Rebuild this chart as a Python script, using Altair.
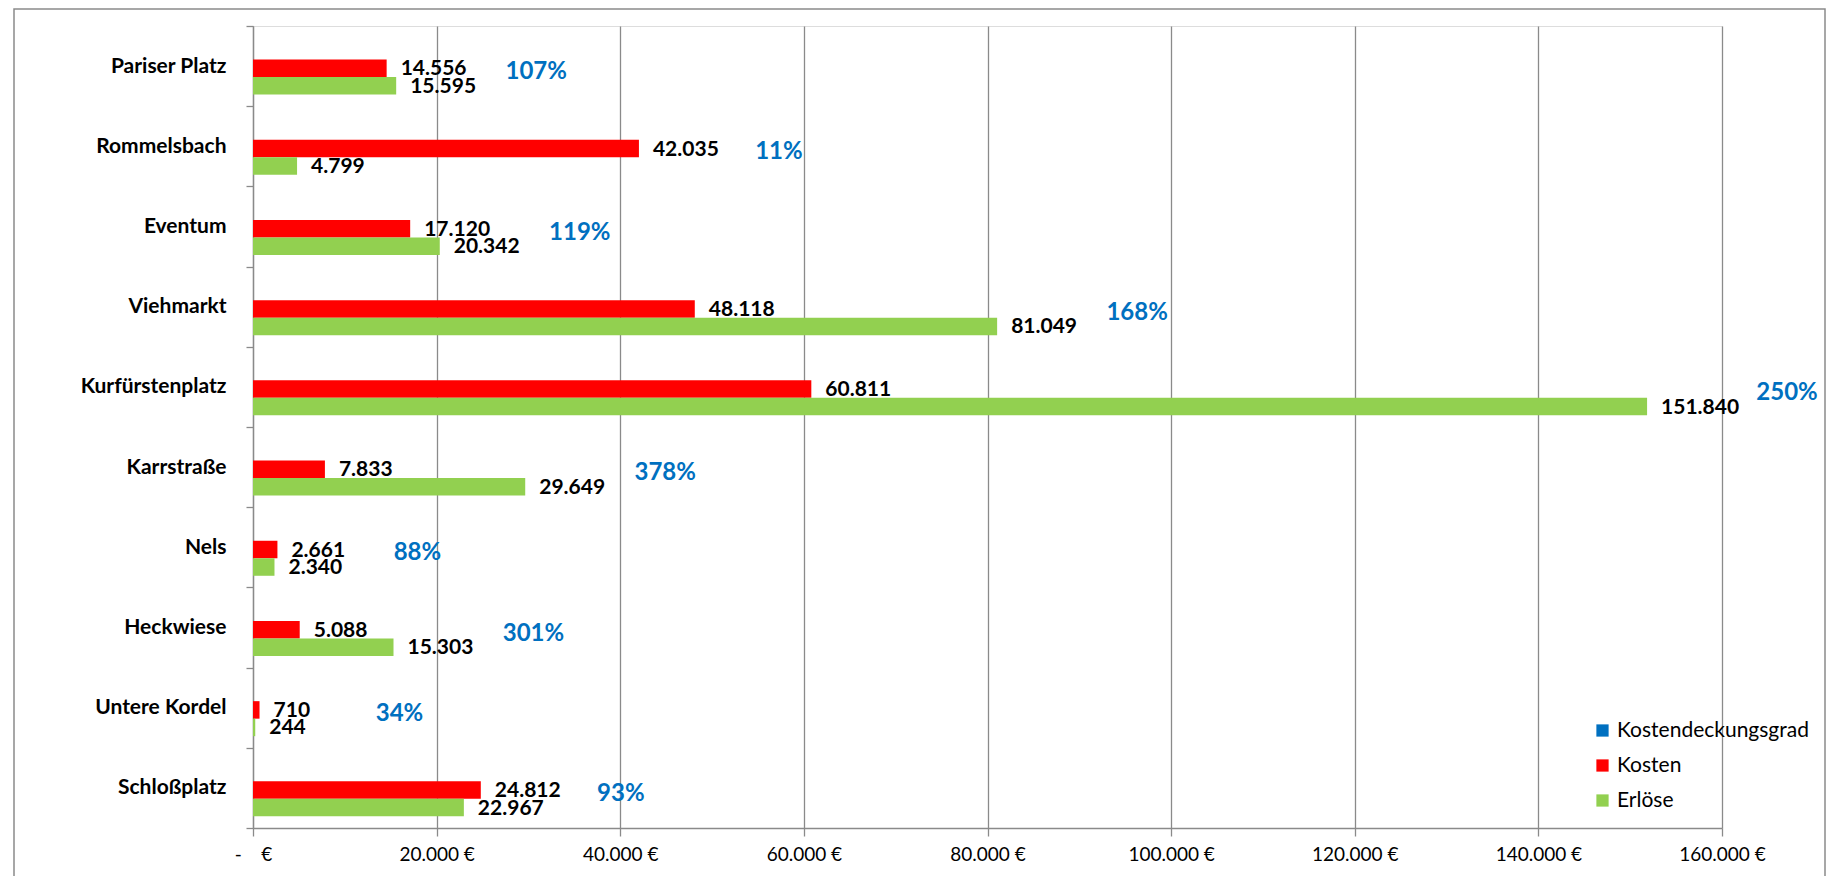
import altair as alt
import pandas as pd

orte = ["Pariser Platz", "Rommelsbach", "Eventum", "Viehmarkt", "Kurfürstenplatz",
        "Karrstraße", "Nels", "Heckwiese", "Untere Kordel", "Schloßplatz"]
kosten = [14556, 42035, 17120, 48118, 60811, 7833, 2661, 5088, 710, 24812]
erloese = [15595, 4799, 20342, 81049, 151840, 29649, 2340, 15303, 244, 22967]
kdg_pct = [107, 11, 119, 168, 250, 378, 88, 301, 34, 93]

serien = ["Kostendeckungsgrad", "Kosten", "Erlöse"]
farben = ["#0070C0", "#FF0000", "#92D050"]


def de(v):
    return f"{v:,}".replace(",", ".")


rows = []
for o, k, e in zip(orte, kosten, erloese):
    rows.append({"Ort": o, "Serie": "Kosten", "Wert": k, "Label": de(k)})
    rows.append({"Ort": o, "Serie": "Erlöse", "Wert": e, "Label": de(e)})
bars_df = pd.DataFrame(rows)

pct_df = pd.DataFrame({
    "Ort": orte,
    "Pos": [max(k, e) for k, e in zip(kosten, erloese)],
    "Pct": [f"{p}%" for p in kdg_pct],
})

GRID = "#8a8a8a"

y_enc = alt.Y("Ort:N", sort=orte, title=None,
              scale=alt.Scale(paddingInner=0, paddingOuter=0),
              axis=alt.Axis(tickBand="extent", labelFont="Lato", labelFontSize=21,
                            labelFontWeight="bold", labelColor="#000000",
                            labelPadding=20, tickSize=7, tickColor=GRID,
                            domainColor=GRID, domainWidth=1.3, tickWidth=1.3,
                            grid=False, labelLimit=400))
x_enc = alt.X("Wert:Q", title=None,
              scale=alt.Scale(domain=[0, 160000], nice=False),
              axis=alt.Axis(values=list(range(0, 160001, 20000)),
                            labelExpr="datum.value == 0 ? '-\u00a0\u00a0\u00a0\u00a0€' : replace(format(datum.value, ','), ',', '.') + ' €'",
                            labelFont="Lato", labelFontSize=19, labelColor="#000000",
                            labelFlush=False,
                            labelPadding=9, tickSize=8, tickColor=GRID, tickWidth=1.3,
                            domainColor=GRID, domainWidth=1.3,
                            grid=True, gridColor=GRID, gridWidth=1.3))
yoff = alt.YOffset("Serie:N", sort=serien,
                   scale=alt.Scale(domain=serien, paddingInner=0, paddingOuter=0.79, align=0.58))

bars = alt.Chart(bars_df).mark_bar(size=17.5).encode(
    x=x_enc,
    y=y_enc,
    yOffset=yoff,
    color=alt.Color("Serie:N", scale=alt.Scale(domain=serien, range=farben),
                    legend=alt.Legend(title=None, orient="none", legendX=1339, legendY=694,
                                      symbolType="square", symbolSize=150,
                                      symbolStrokeWidth=0, labelFont="Lato",
                                      labelFontSize=21, labelColor="#000000",
                                      labelLimit=400,
                                      rowPadding=13, labelOffset=4)),
)

value_text = alt.Chart(bars_df).mark_text(
    align="left", baseline="middle", dx=14, dy=1,
    font="Lato", fontSize=21, fontWeight="bold", color="#000000",
).encode(
    x="Wert:Q",
    y=alt.Y("Ort:N", sort=orte),
    yOffset=alt.YOffset("Serie:N", sort=serien),
    text="Label:N",
)

pct_text = alt.Chart(pct_df).mark_text(
    align="center", baseline="middle", dx=140, dy=6,
    font="Lato", fontSize=24, fontWeight="bold", color="#0070C0",
).encode(
    x=alt.X("Pos:Q"),
    y=alt.Y("Ort:N", sort=orte),
    text="Pct:N",
)

frame = alt.Chart(pd.DataFrame({"a": [0]})).mark_rect(
    filled=False, stroke=GRID, strokeWidth=1.5
).encode(
    x=alt.value(-239), x2=alt.value(1572), y=alt.value(-17), y2=alt.value(900)
)

chart = alt.layer(frame, bars, value_text, pct_text).properties(
    width=1469, height=802,
    autosize=alt.AutoSizeParams(type="none"),
    padding={"left": 245, "top": 18, "right": 104, "bottom": 48},
).configure_view(stroke=None).configure(background="#ffffff")

chart.save("out.html", embed_options={"renderer": "svg", "actions": False})
